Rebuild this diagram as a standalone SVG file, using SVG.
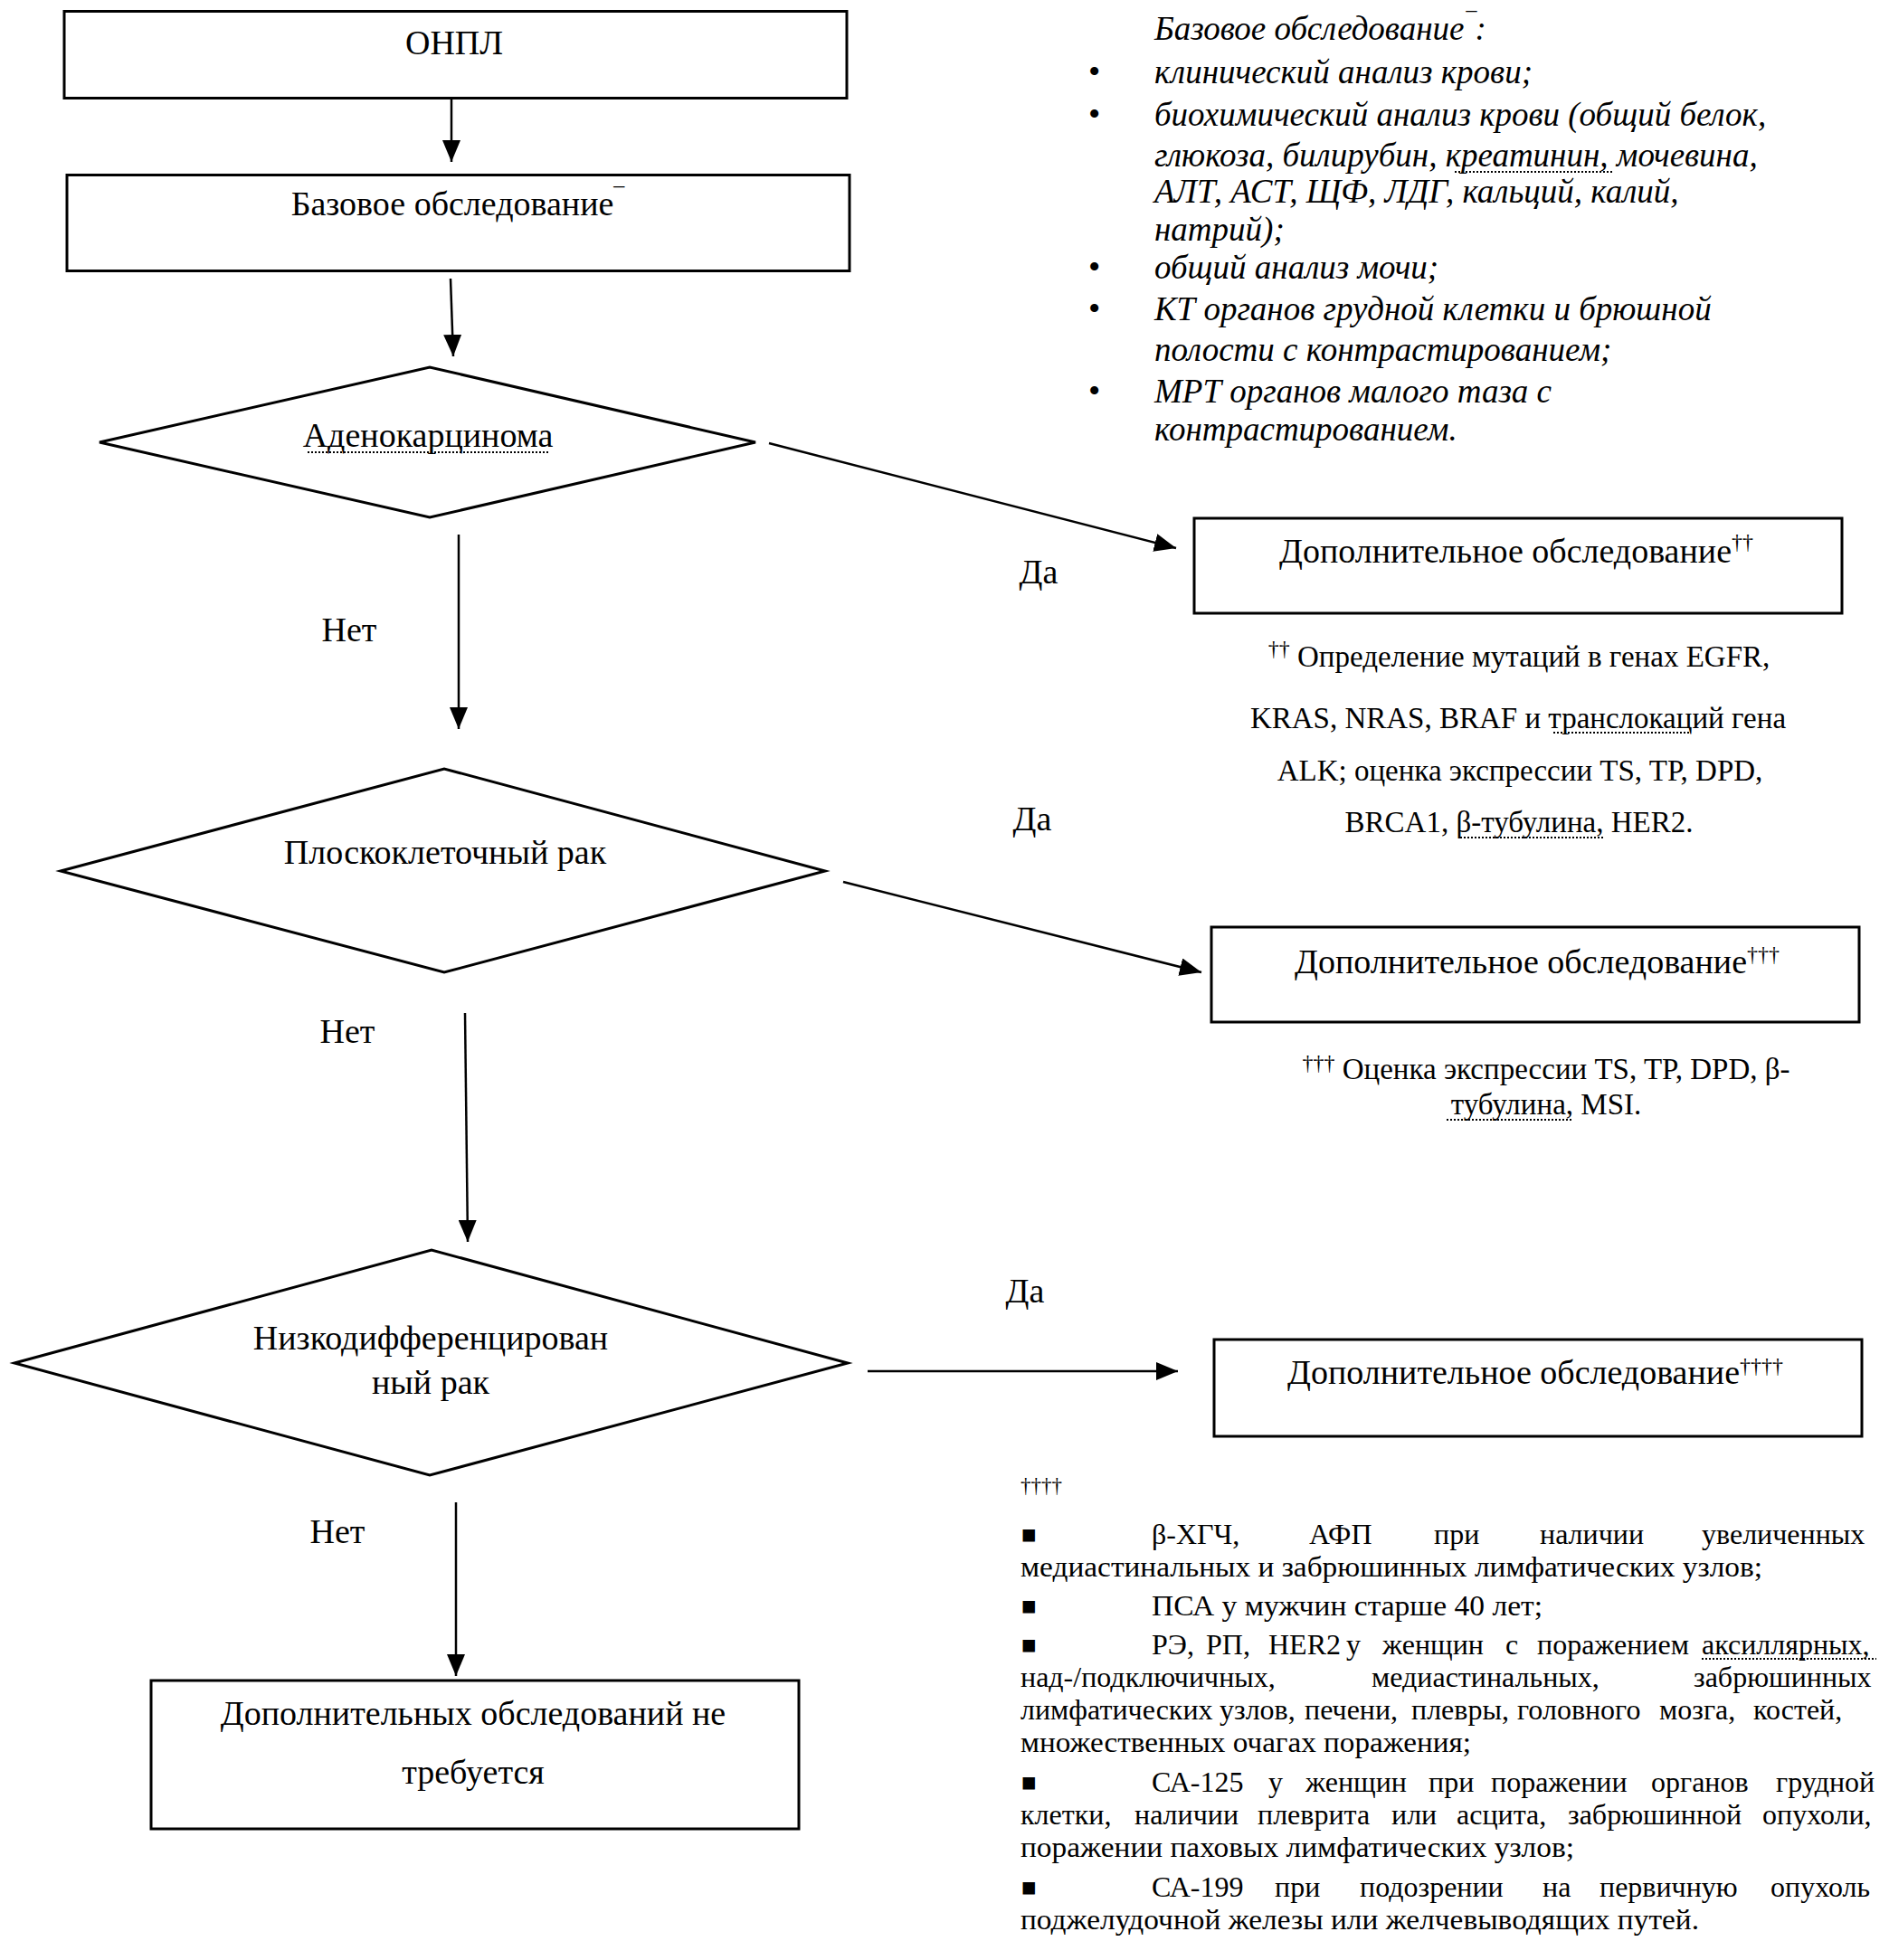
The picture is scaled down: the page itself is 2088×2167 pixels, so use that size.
<svg xmlns="http://www.w3.org/2000/svg" width="2088" height="2167" viewBox="0 0 2088 2167">
<defs>
<style>
.box{fill:none;stroke:#000;stroke-width:3}
.conn{fill:none;stroke:#000;stroke-width:2.5;marker-end:url(#ah)}
.t{font-family:"Liberation Serif","Times New Roman",serif;font-size:38px;fill:#000}
.m{text-anchor:middle}
.fn{font-size:33px}
.fc{font-size:32px}
.it{font-style:italic;font-size:37px}
.sup{font-size:24px}
.hd{font-size:23px}
.bul{font-family:"DejaVu Sans",sans-serif;font-size:27px;fill:#000}
.sq{fill:none;stroke:#000;stroke-width:2;stroke-dasharray:2 2}
</style>
<marker id="ah" markerUnits="userSpaceOnUse" markerWidth="24" markerHeight="20" refX="24" refY="10" orient="auto">
<path d="M0,0 L24,10 L0,20 z" fill="#000"/>
</marker>
</defs>
<rect width="2088" height="2167" fill="#fff"/>

<g id="connectors">
<path class="conn" d="M499,110 L499,179"/>
<path class="conn" d="M498,308 L501,394"/>
<path class="conn" d="M850,490 L1300,606"/>
<path class="conn" d="M507,591 L507,806"/>
<path class="conn" d="M932,975 L1328,1075"/>
<path class="conn" d="M514,1120 L517,1373"/>
<path class="conn" d="M959,1516 L1302,1516"/>
<path class="conn" d="M504,1661 L504,1853"/>
</g>

<g id="edge-labels">
<text class="t m" x="1148" y="645">Да</text>
<text class="t m" x="386" y="709">Нет</text>
<text class="t m" x="1141" y="918">Да</text>
<text class="t m" x="384" y="1153">Нет</text>
<text class="t m" x="1133" y="1440">Да</text>
<text class="t m" x="373" y="1706">Нет</text>
</g>

<g id="n-onpl">
<rect class="box" x="71" y="12.5" width="865" height="96"/>
<text class="t m" x="502" y="60">ОНПЛ</text>
</g>

<g id="n-base">
<rect class="box" x="74" y="193.5" width="865" height="106"/>
<text class="t m" x="506" y="238">Базовое обследование<tspan class="sup" dy="-14">¯</tspan></text>
</g>

<g id="n-adeno">
<polygon class="box" points="110,489 475,406 835,489 475,572"/>
<text class="t m" x="473" y="494">Аденокарцинома</text>
<path class="sq" d="M340,500 L608,500"/>
</g>

<g id="n-squam">
<polygon class="box" points="67,963 491,850 912,963 491,1075"/>
<text class="t m" x="492" y="955">Плоскоклеточный рак</text>
</g>

<g id="n-poor">
<polygon class="box" points="16,1507 477,1382 937,1507 475,1631"/>
<text class="t m" x="476" y="1492">Низкодифференцирован</text>
<text class="t m" x="476" y="1541">ный рак</text>
</g>

<g id="n-none">
<rect class="box" x="167" y="1858" width="716" height="164"/>
<text class="t m" x="523" y="1907">Дополнительных обследований не</text>
<text class="t m" x="523" y="1972">требуется</text>
</g>

<g id="n-extra-a">
<rect class="box" x="1320" y="573" width="716" height="105"/>
<text class="t m" x="1676" y="622">Дополнительное обследование<tspan class="sup" dy="-15">††</tspan></text>
</g>

<g id="n-extra-b">
<rect class="box" x="1339" y="1025" width="716" height="105"/>
<text class="t m" x="1699" y="1076">Дополнительное обследование<tspan class="sup" dy="-13">†††</tspan></text>
</g>

<g id="n-extra-c">
<rect class="box" x="1342" y="1481" width="716" height="107"/>
<text class="t m" x="1697" y="1530">Дополнительное обследование<tspan class="sup" dy="-12">††††</tspan></text>
</g>

<g id="note-base">
<text class="t it" x="1276" y="44">Базовое обследование<tspan class="sup" dy="-14">¯</tspan><tspan dy="14">:</tspan></text>
<text class="t" x="1203" y="92">•</text>
<text class="t it" x="1276" y="92">клинический анализ крови;</text>
<text class="t" x="1203" y="139">•</text>
<text class="t it" x="1276" y="139">биохимический анализ крови (общий белок,</text>
<text class="t it" x="1276" y="184">глюкоза, билирубин, креатинин, мочевина,</text>
<path class="sq" d="M1608,190 L1782,190"/>
<text class="t it" x="1276" y="224">АЛТ, АСТ, ЩФ, ЛДГ, кальций, калий,</text>
<text class="t it" x="1276" y="266">натрий);</text>
<text class="t" x="1203" y="308">•</text>
<text class="t it" x="1276" y="308">общий анализ мочи;</text>
<text class="t" x="1203" y="354">•</text>
<text class="t it" x="1276" y="354">КТ органов грудной клетки и брюшной</text>
<text class="t it" x="1276" y="399">полости с контрастированием;</text>
<text class="t" x="1203" y="445">•</text>
<text class="t it" x="1276" y="445">МРТ органов малого таза с</text>
<text class="t it" x="1276" y="487">контрастированием.</text>
</g>

<g id="note-a">
<text class="t fn m" x="1679" y="737"><tspan class="sup" dy="-12">††</tspan><tspan dy="12"> Определение мутаций в генах EGFR,</tspan></text>
<text class="t fn m" x="1678" y="805">KRAS, NRAS, BRAF и транслокаций гена</text>
<path class="sq" d="M1717,810 L1868,810"/>
<text class="t fn m" x="1680" y="863">ALK; оценка экспрессии TS, TP, DPD,</text>
<text class="t fn m" x="1679" y="920">BRCA1, β-тубулина, HER2.</text>
<path class="sq" d="M1614,926 L1772,926"/>
</g>

<g id="note-b">
<text class="t fn m" x="1709" y="1193"><tspan class="sup" dy="-10">†††</tspan><tspan dy="10"> Оценка экспрессии TS, TP, DPD, β-</tspan></text>
<text class="t fn m" x="1709" y="1232">тубулина, MSI.</text>
<path class="sq" d="M1599,1238 L1737,1238"/>
</g>

<g id="note-c">
<text class="t hd" x="1128" y="1650">††††</text>
<text class="bul" x="1128" y="1705">▪</text>
<text class="t fc" y="1707"><tspan x="1273">β-ХГЧ,</tspan><tspan x="1447">АФП</tspan><tspan x="1585">при</tspan><tspan x="1702">наличии</tspan><tspan x="1881">увеличенных</tspan></text>
<text class="t fc" x="1128" y="1743" textLength="820" lengthAdjust="spacingAndGlyphs">медиастинальных и забрюшинных лимфатических узлов;</text>
<text class="bul" x="1128" y="1784">▪</text>
<text class="t fc" x="1273" y="1786" textLength="432" lengthAdjust="spacingAndGlyphs">ПСА у мужчин старше 40 лет;</text>
<text class="bul" x="1128" y="1827">▪</text>
<text class="t fc" y="1829"><tspan x="1273">РЭ,</tspan><tspan x="1333">РП,</tspan><tspan x="1402">HER2</tspan><tspan x="1488">у</tspan><tspan x="1528">женщин</tspan><tspan x="1664">с</tspan><tspan x="1699">поражением</tspan><tspan x="1881">аксиллярных,</tspan></text>
<path class="sq" d="M1881,1834 L2074,1834"/>
<text class="t fc" y="1865"><tspan x="1128">над-/подключичных,</tspan><tspan x="1516">медиастинальных,</tspan><tspan x="1872">забрюшинных</tspan></text>
<text class="t fc" y="1901"><tspan x="1128">лимфатических</tspan><tspan x="1348">узлов,</tspan><tspan x="1442">печени,</tspan><tspan x="1560">плевры,</tspan><tspan x="1677">головного</tspan><tspan x="1834">мозга,</tspan><tspan x="1938">костей,</tspan></text>
<text class="t fc" x="1128" y="1937" textLength="498" lengthAdjust="spacingAndGlyphs">множественных очагах поражения;</text>
<text class="bul" x="1128" y="1979">▪</text>
<text class="t fc" y="1981"><tspan x="1273">СА-125</tspan><tspan x="1402">у</tspan><tspan x="1443">женщин</tspan><tspan x="1579">при</tspan><tspan x="1648">поражении</tspan><tspan x="1825">органов</tspan><tspan x="1963">грудной</tspan></text>
<text class="t fc" y="2017"><tspan x="1128">клетки,</tspan><tspan x="1254">наличии</tspan><tspan x="1390">плеврита</tspan><tspan x="1538">или</tspan><tspan x="1610">асцита,</tspan><tspan x="1733">забрюшинной</tspan><tspan x="1948">опухоли,</tspan></text>
<text class="t fc" x="1128" y="2053" textLength="612" lengthAdjust="spacingAndGlyphs">поражении паховых лимфатических узлов;</text>
<text class="bul" x="1128" y="2095">▪</text>
<text class="t fc" y="2097"><tspan x="1273">СА-199</tspan><tspan x="1409">при</tspan><tspan x="1503">подозрении</tspan><tspan x="1705">на</tspan><tspan x="1768">первичную</tspan><tspan x="1957">опухоль</tspan></text>
<text class="t fc" x="1128" y="2133" textLength="750" lengthAdjust="spacingAndGlyphs">поджелудочной железы или желчевыводящих путей.</text>
</g>
</svg>
